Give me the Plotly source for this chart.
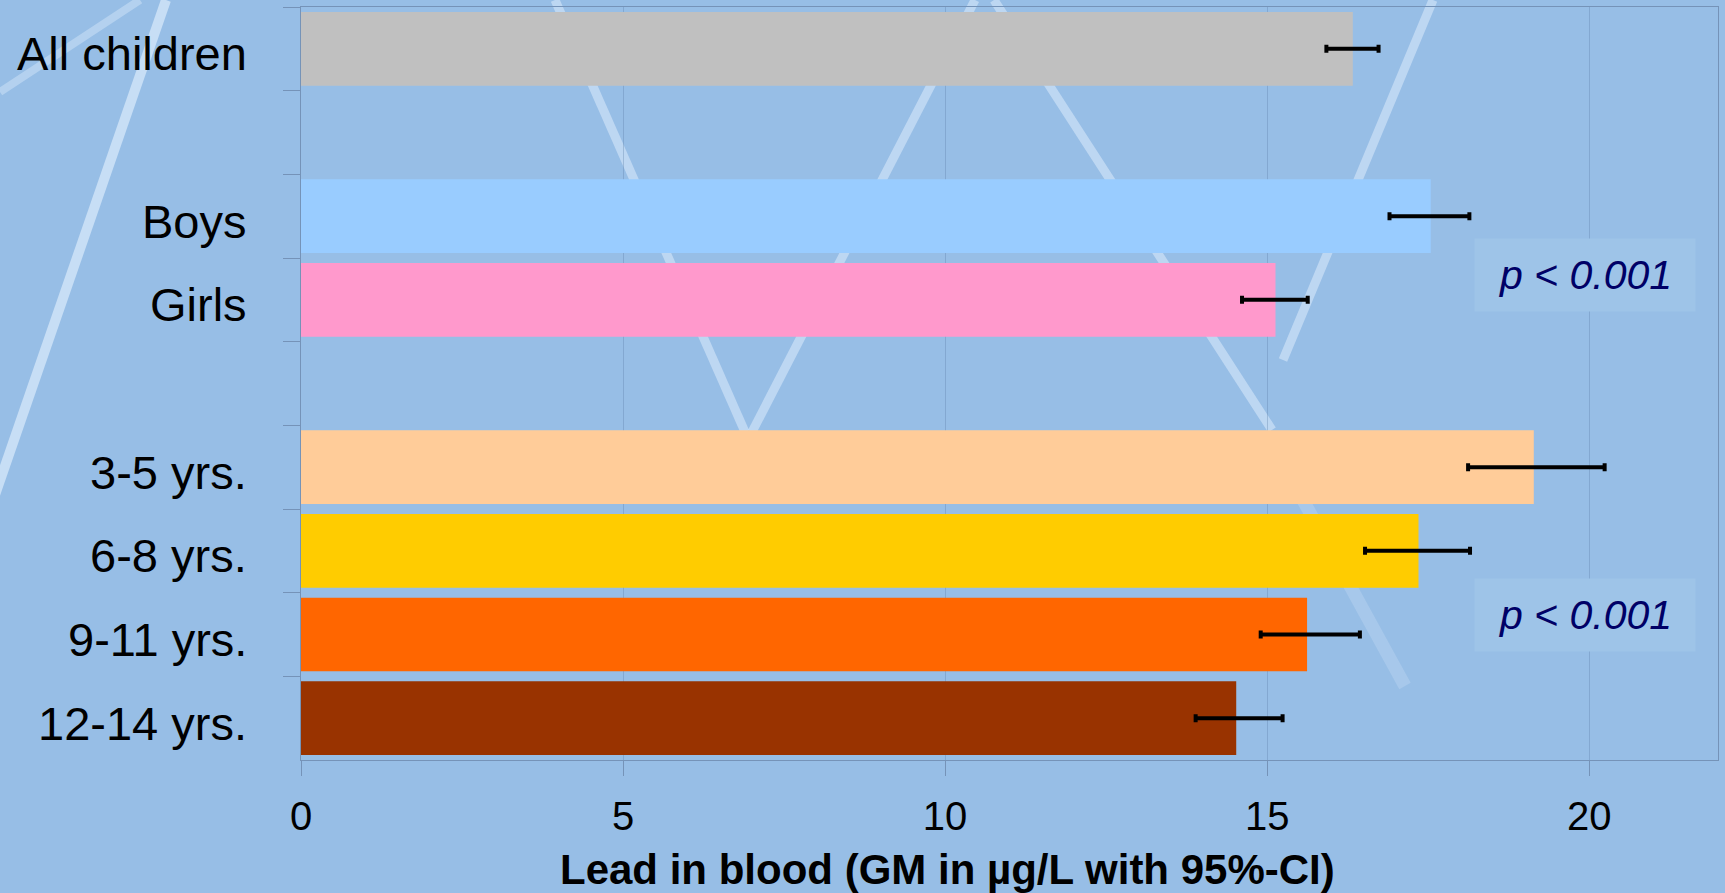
import plotly.graph_objects as go

# ---------------- data ----------------
categories = ["All children", "Boys", "Girls", "3-5 yrs.", "6-8 yrs.", "9-11 yrs.", "12-14 yrs."]
row_order = ["All children", "gap_1", "Boys", "Girls", "gap_2",
             "3-5 yrs.", "6-8 yrs.", "9-11 yrs.", "12-14 yrs."]
gm_values = [16.33, 17.54, 15.13, 19.14, 17.35, 15.62, 14.52]
ci_lower = [15.92, 16.90, 14.61, 18.12, 16.52, 14.90, 13.89]
ci_upper = [16.73, 18.14, 15.63, 20.24, 18.15, 16.44, 15.24]
bar_colors = ["#C0C0C0", "#99CCFF", "#FF99CC", "#FFCC99", "#FFCC00", "#FF6600", "#993300"]
x_ticks = [0, 5, 10, 15, 20]
p_labels = ["p < 0.001", "p < 0.001"]
x_title = "Lead in blood (GM in µg/L with 95%-CI)"

FONT = "Arial, Liberation Sans, sans-serif"
W, H = 1725, 893
ML, MR, MT, MB = 301, 7, 7, 133

err_plus = [u - g for u, g in zip(ci_upper, gm_values)]
err_minus = [g - l for g, l in zip(gm_values, ci_lower)]

fig = go.Figure()
fig.add_trace(go.Bar(
    x=gm_values, y=categories, orientation="h",
    marker=dict(color=bar_colors, line=dict(width=0)),
    error_x=dict(type="data", array=err_plus, arrayminus=err_minus,
                 color="black", thickness=4, width=4, visible=True),
    hoverinfo="x+y", showlegend=False,
))

# decorative background stripes (template decoration, pixel coords)
pw, ph = W - ML - MR, H - MT - MB
def px2paper(px, py):
    return (px - ML) / pw, (H - MB - py) / ph

stripes = [
    ((166, 0), (-5, 495), 10, "rgba(215,232,250,0.75)"),
    ((0, 92), (140, 0), 8, "rgba(215,232,250,0.45)"),
    ((555, 0), (745, 432), 9, "rgba(215,232,250,0.6)"),
    ((975, 0), (752, 432), 9, "rgba(215,232,250,0.6)"),
    ((994, 0), (1272, 430), 9, "rgba(215,232,250,0.6)"),
    ((1292, 480), (1405, 686), 13, "rgba(215,232,250,0.25)"),
    ((1433, 0), (1283, 360), 9, "rgba(215,232,250,0.6)"),
]
shapes = []
for (a, b, w, c) in stripes:
    x0, y0 = px2paper(*a)
    x1, y1 = px2paper(*b)
    shapes.append(dict(type="line", xref="paper", yref="paper", x0=x0, y0=y0, x1=x1, y1=y1,
                       line=dict(color=c, width=w), layer="below"))

annotations = []
for cat in categories:
    annotations.append(dict(
        x=0, xref="paper", y=cat, yref="y", xanchor="right", yanchor="middle",
        xshift=-52, yshift=-5, showarrow=False, text=cat,
        font=dict(family=FONT, size=47, color="black")))

annotations.append(dict(
    x=0.4565, xref="paper", y=0, yref="paper", xanchor="center", yanchor="middle",
    yshift=-109, showarrow=False, text="<b>" + x_title + "</b>",
    font=dict(family=FONT, size=42, color="black")))

for txt, yp in zip(p_labels, [0.644, 0.193]):
    annotations.append(dict(
        x=0.906, xref="paper", y=yp, yref="paper", xanchor="center", yanchor="middle",
        showarrow=False, text=txt, width=218, height=70, bgcolor="#9EC4E8",
        font=dict(family=FONT, size=41, color="#000066", style="italic")))

fig.update_layout(
    width=W, height=H,
    margin=dict(l=ML, r=MR, t=MT, b=MB, pad=0),
    paper_bgcolor="#97BEE6",
    plot_bgcolor="rgba(0,0,0,0)",
    bargap=0.12,
    shapes=shapes,
    annotations=annotations,
    xaxis=dict(range=[0, 22], tickvals=x_ticks, ticks="outside", ticklen=15,
               tickcolor="#7593B8", tickwidth=1,
               showline=True, linecolor="#7593B8", linewidth=1, mirror=True,
               showgrid=True, gridcolor="rgba(95,128,170,0.35)", gridwidth=1,
               zeroline=False, ticklabelstandoff=6,
               tickfont=dict(family=FONT, size=40, color="black")),
    yaxis=dict(type="category", categoryorder="array", categoryarray=row_order,
               range=[len(row_order) - 0.5, -0.5],
               showticklabels=False, ticks="outside", ticklen=17, tickson="boundaries",
               tickcolor="#7593B8", showline=True, linecolor="#7593B8", linewidth=1,
               mirror=True, showgrid=False, zeroline=False),
)

fig.write_html("out.html", config={"displayModeBar": False},
               post_script="document.body.style.margin='0';document.body.style.overflow='hidden';")
